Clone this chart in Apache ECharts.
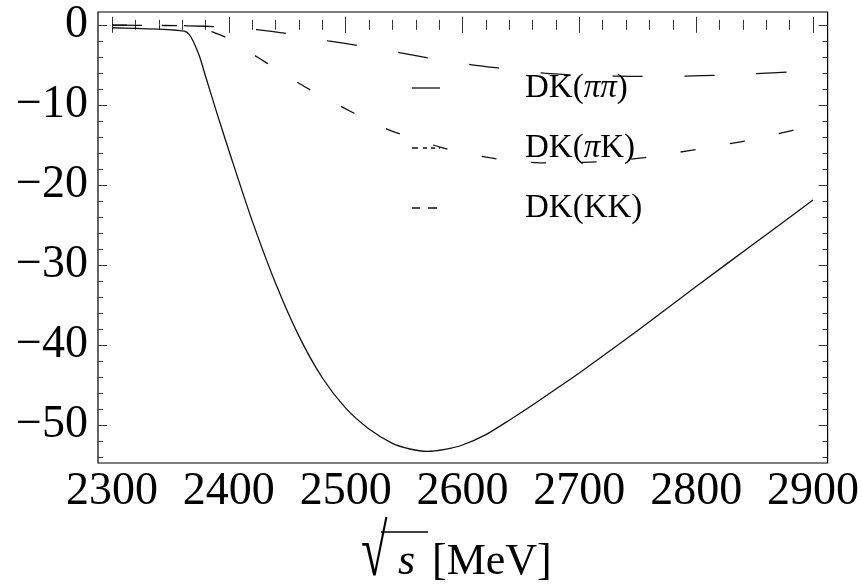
<!DOCTYPE html>
<html>
<head>
<meta charset="utf-8">
<script src="https://cdn.jsdelivr.net/npm/echarts@6/dist/echarts.min.js"></script>
<style>
  html, body { margin: 0; padding: 0; background: #fff; }
  #chart { width: 862px; height: 585px; }
</style>
</head>
<body>
<div id="chart"></div>
<script>
// Phase of the DK amplitude contributions versus centre-of-mass energy (MeV)
const seriesNames = ['DK(ππ)', 'DK(πK)', 'DK(KK)'];

// DK(ππ): solid curve
const energyPiPi = [2300, 2320, 2340, 2355, 2362, 2366, 2370, 2375, 2380, 2391, 2400, 2420, 2440, 2460, 2480, 2500, 2520, 2540, 2555, 2570, 2585, 2600, 2620, 2640, 2660, 2680, 2700, 2750, 2800, 2850, 2900];
const valuePiPi  = [-0.37, -0.45, -0.55, -0.68, -0.8, -1.2, -2.2, -4.0, -6.4, -11.6, -15.7, -24.5, -32.3, -38.9, -44.1, -47.9, -50.5, -52.3, -53.0, -53.3, -53.05, -52.5, -51.2, -49.4, -47.5, -45.5, -43.5, -38.2, -32.7, -27.3, -21.9];

// DK(πK): long-dashed curve
const energyPiK = [2300, 2350, 2380, 2400, 2424, 2450, 2485, 2511, 2547, 2573, 2608, 2634, 2670, 2700, 2730, 2760, 2790, 2820, 2850, 2880, 2900];
const valuePiK  = [-0.05, -0.08, -0.18, -0.3, -0.6, -1.1, -2.0, -2.6, -3.5, -4.2, -5.0, -5.45, -6.05, -6.3, -6.4, -6.45, -6.4, -6.3, -6.1, -5.9, -5.75];

// DK(KK): medium-dashed curve
const energyKK = [2300, 2340, 2364, 2375, 2388, 2400, 2412, 2424, 2435, 2448, 2461, 2473, 2487, 2500, 2512, 2526, 2539, 2552, 2566, 2580, 2593, 2608, 2623, 2636, 2650, 2670, 2690, 2717, 2740, 2760, 2780, 2803, 2825, 2846, 2868, 2890, 2900];
const valueKK  = [-0.05, -0.08, -0.15, -0.45, -1.0, -1.75, -2.8, -4.0, -5.0, -6.2, -7.4, -8.4, -9.5, -10.5, -11.4, -12.4, -13.25, -13.9, -14.6, -15.25, -15.75, -16.2, -16.6, -16.9, -17.1, -17.25, -17.25, -17.1, -16.85, -16.5, -16.05, -15.5, -14.95, -14.4, -13.7, -12.9, -12.5];

// tick labels
const xTickLabels = [2300, 2400, 2500, 2600, 2700, 2800, 2900];
const yTickLabels = [0, -10, -20, -30, -40, -50];

const X_MIN = 2288, X_MAX = 2912.5;
const Y_MIN = -54.75, Y_MAX = 1.6;

const xMinorTicks = [];
for (let v = 2300; v <= 2900; v += 20) xMinorTicks.push(v);
const yMinorTicks = [];
for (let v = 0; v >= -54; v -= 2) yMinorTicks.push(v);

const zip = (xs, ys) => xs.map((x, i) => [x, ys[i]]);

const SERIF = '"Liberation Serif", "Times New Roman", serif';
const INK = '#111';

function xAxisDef(pos, ticks, len, labels) {
  return {
    type: 'value', position: pos, min: X_MIN, max: X_MAX,
    axisLine: { show: false },
    splitLine: { show: false },
    axisTick: { show: true, inside: true, length: len, customValues: ticks, lineStyle: { color: '#333', width: 1 } },
    axisLabel: labels ? {
      show: true, customValues: labels, margin: 6,
      fontFamily: SERIF, fontSize: 46, color: '#000',
      formatter: v => String(v)
    } : { show: false }
  };
}
function yAxisDef(pos, ticks, len, labels) {
  return {
    type: 'value', position: pos, min: Y_MIN, max: Y_MAX,
    axisLine: { show: false },
    splitLine: { show: false },
    axisTick: { show: true, inside: true, length: len, customValues: ticks, lineStyle: { color: '#333', width: 1 } },
    axisLabel: labels ? {
      show: true, customValues: labels, margin: 10,
      fontFamily: SERIF, fontSize: 46, color: '#000',
      formatter: v => String(v).replace('-', '\u2212')
    } : { show: false }
  };
}

// legend swatches: solid, dash-dot, dashed
const ICON_SOLID = 'path://M0,0H28V1H0Z';
const ICON_DASHDOT = 'path://M0,0H6V1H0Z M11,0H15V1H11Z M19,0H23V1H19Z M27,0H28V1H27Z';
const ICON_DASH = 'path://M0,0H8V1H0Z M16,0H25V1H16Z M28,0H28V1H28Z';

const chart = echarts.init(document.getElementById('chart'), null, { renderer: 'canvas' });

const legendRich = {
  n: { fontFamily: SERIF, fontSize: 33, color: '#000' },
  g: { fontFamily: SERIF, fontSize: 33, fontStyle: 'italic', color: '#000' }
};

const option = {
  backgroundColor: '#fff',
  animation: false,
  grid: {
    left: 98, top: 12, width: 731, height: 451,
    show: true, borderColor: '#000', borderWidth: 1.2, backgroundColor: 'transparent'
  },
  xAxis: [
    xAxisDef('bottom', xTickLabels, 8, xTickLabels),
    xAxisDef('bottom', xMinorTicks, 5, null),
    xAxisDef('top', xTickLabels, 8, null),
    xAxisDef('top', xMinorTicks, 5, null)
  ],
  yAxis: [
    yAxisDef('left', yTickLabels, 9, yTickLabels),
    yAxisDef('left', yMinorTicks, 5, null),
    yAxisDef('right', yTickLabels, 9, null),
    yAxisDef('right', yMinorTicks, 5, null)
  ],
  legend: {
    orient: 'vertical',
    left: 412, top: 70,
    padding: 0,
    itemWidth: 28, itemHeight: 1.3, itemGap: 24,
    symbolKeepAspect: false,
    itemStyle: { color: INK, borderWidth: 0 },
    formatter: name => name.split(/(π)/).filter(p => p).map(p => p === 'π' ? '{g|π}' : '{n|' + p + '}').join(''),
    textStyle: {
      fontFamily: SERIF, fontSize: 33, lineHeight: 36, color: '#000',
      padding: [0, 0, 0, 80],
      rich: legendRich
    },
    data: [
      { name: seriesNames[0], icon: ICON_SOLID },
      { name: seriesNames[1], icon: ICON_DASHDOT },
      { name: seriesNames[2], icon: ICON_DASH }
    ]
  },
  series: [
    {
      name: seriesNames[0], type: 'line', symbol: 'none', smooth: 0.25,
      data: zip(energyPiPi, valuePiPi),
      lineStyle: { color: INK, width: 1.3, type: 'solid' }, itemStyle: { color: INK }
    },
    {
      name: seriesNames[1], type: 'line', symbol: 'none', smooth: 0.25,
      data: zip(energyPiK, valuePiK),
      lineStyle: { color: INK, width: 1.3, type: [30, 42] }, itemStyle: { color: INK }
    },
    {
      name: seriesNames[2], type: 'line', symbol: 'none', smooth: 0.25,
      data: zip(energyKK, valueKK),
      lineStyle: { color: INK, width: 1.3, type: [15, 35] }, itemStyle: { color: INK }
    }
  ],
  graphic: [
    {
      // radical sign of the axis title, stretched to reach the overbar
      type: 'text', x: 361, y: 556, scaleY: 1.6, scaleX: 1.05,
      style: { x: 0, y: 0, text: '√', font: '46px ' + SERIF, fill: '#000', verticalAlign: 'middle' }
    },
    {
      type: 'line', shape: { x1: 381, y1: 532, x2: 428, y2: 532 },
      style: { stroke: '#000', lineWidth: 1.3 }
    },
    {
      type: 'text', x: 398, y: 562,
      style: { x: 0, y: 0, text: 's', font: 'italic 44px ' + SERIF, fill: '#000', verticalAlign: 'middle' }
    },
    {
      type: 'text', x: 432, y: 562,
      style: { x: 0, y: 0, text: '[MeV]', font: '44px ' + SERIF, fill: '#000', verticalAlign: 'middle' }
    }
  ]
};

chart.setOption(option);
</script>
</body>
</html>
